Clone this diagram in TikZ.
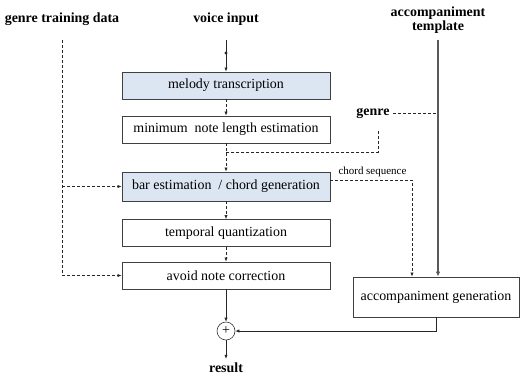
\documentclass[tikz,border=0pt]{standalone}
\usepackage{fontspec}
\setmainfont{Liberation Serif}
\usetikzlibrary{arrows.meta}
\definecolor{boxblue}{RGB}{220,230,242}

\begin{document}
\begin{tikzpicture}[x=1bp,y=-1bp,font=\fontsize{14}{16}\selectfont,
  blk/.style={draw=black!75,line width=.8bp,minimum width=208bp,minimum height=27bp,inner sep=0pt},
  lbl/.style={font=\fontsize{14}{14.5}\selectfont\bfseries},
  flow/.style={draw=black!85,line width=.6bp,-{Latex[length=4bp,width=3.2bp]}},
  dline/.style={draw=black!85,line width=.6bp,dash pattern=on 3bp off 2bp},
  dflow/.style={flow,dash pattern=on 3bp off 2bp}]
\useasboundingbox (0,0) rectangle (521,378);
% inputs
\node[lbl] (vin) at (226,19) {voice input};
\node[lbl] (gtd) at (62,19) {genre training data};
\node[lbl,align=center] (tmpl) at (438,20) {accompaniment\\template};
\node[lbl] (genre) at (373,113) {genre};
% main chain
\node[blk,fill=boxblue] (mt) at (226,85.5) {melody transcription};
\node[blk] (mnl) at (226,129.5) {minimum\ \ note length estimation};
\node[blk,fill=boxblue,minimum height=29bp] (bar) at (226,186.5) {bar estimation \ / chord generation};
\node[blk] (tq) at (226,233) {temporal quantization};
\node[blk] (anc) at (226,275.5) {avoid note correction};
\node[draw=black!75,line width=.8bp,minimum width=166bp,minimum height=40bp,inner sep=0pt] (accgen) at (436,297) {accompaniment generation};
\node[circle,draw=black!80,line width=.6bp,minimum size=18bp,inner sep=0pt] (plus) at (226,331) {+};
\node[lbl,inner sep=1bp] (result) at (226,368) {result};
\node[anchor=south west,font=\fontsize{11}{12}\selectfont] (chordlbl) at (335,180) {chord sequence};
% connectors
\coordinate (vtop) at (226,40);
\draw[flow] (vtop) -- (mt.north);
\fill[black!85] (226,53) circle (1.6bp);
\draw[dflow] (mt) -- (mnl);
\draw[dflow] (mnl) -- (bar);
\draw[dflow] (bar) -- (tq);
\draw[dflow] (tq) -- (anc);
\draw[flow] (anc) -- (plus);
\draw[flow] (plus) -- ([yshift=3bp]result.north);
\draw[flow] (accgen.south) |- (plus.east);
% genre training data
\coordinate (gtop) at (62,40);
\draw[dflow] (gtop) |- (anc.west);
\draw[dflow] (gtop |- bar.west) -- (bar.west);
% template
\coordinate (ttop) at (438,40);
\draw[black!65,line width=2bp,-{Latex[length=5bp,width=4.5bp]}] (ttop) -- (ttop |- accgen.north);
% genre
\coordinate (gturn) at (378,152);
\draw[dline] (genre.east) -- (genre.east -| ttop);
\draw[dline] ([yshift=-9bp]genre.south -| gturn) -- (gturn) -- (gturn -| mnl.south);
% chord sequence
\coordinate (cturn) at (412,180);
\draw[dflow] (bar.east |- cturn) -- (cturn) -- (cturn |- accgen.north);
\end{tikzpicture}
\end{document}
